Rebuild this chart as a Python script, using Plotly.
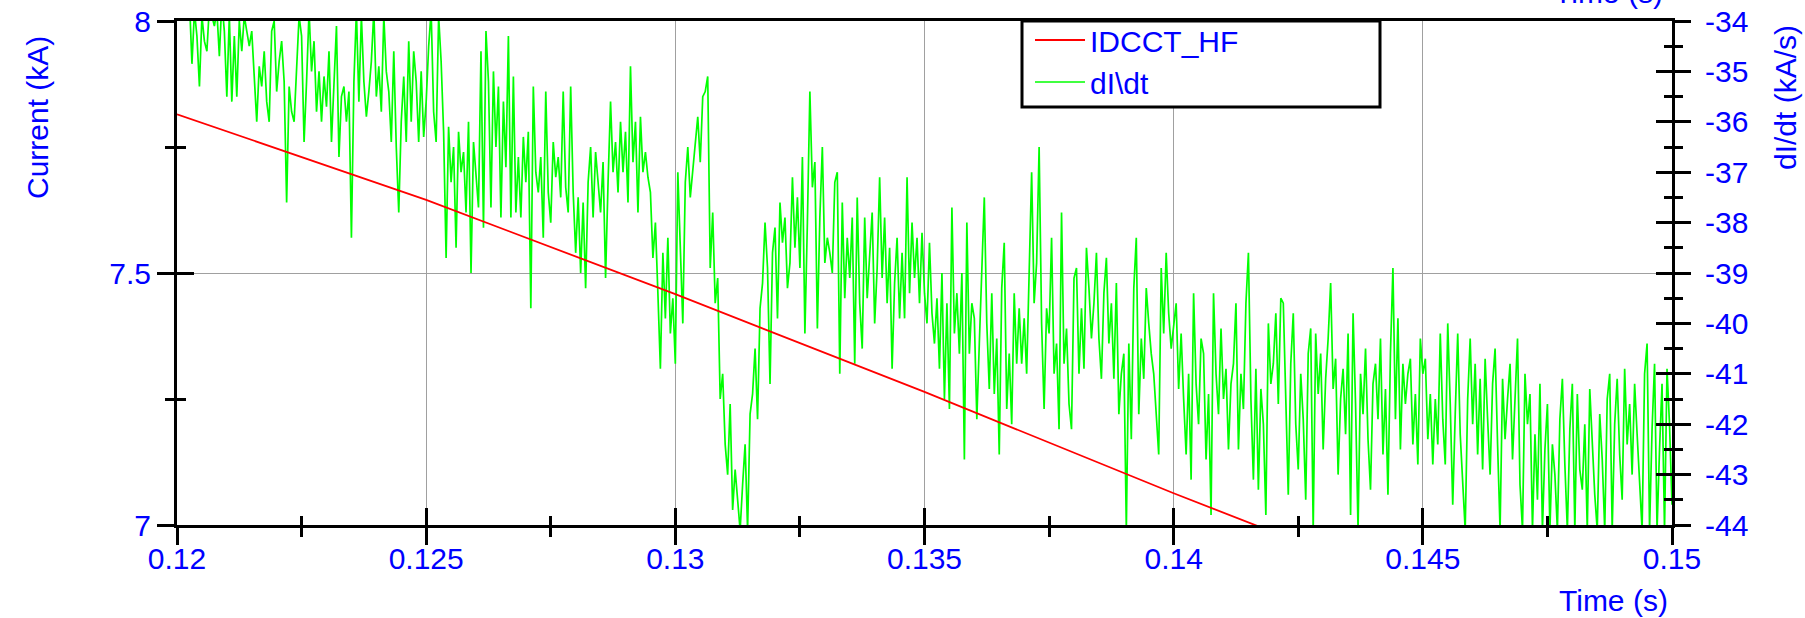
import plotly.graph_objects as go

# ---------------- data ----------------
# Red trace: DCCT current (kA)
current_time = [0.12, 0.125, 0.13, 0.135, 0.14, 0.145, 0.15]
current_ka = [7.815, 7.645, 7.458, 7.264, 7.063, 6.870, 6.670]

# Green trace: dI/dt (kA/s), sampled every 50 us starting at 0.12 s
DIDT_T0 = 0.12
DIDT_DT = 0.00005

didt_0120 = [
    -33.6, -33.4, -33.7, -33.5, -33.8, -33.6, -34.85, -33.8, -34.3, -35.3,
    -33.9, -34.4, -34.6, -33.7, -33.9, -34.1, -33.8, -34.7, -33.6, -34.2,
    -35.5, -33.9, -35.6, -34.3, -35.5, -34.0, -34.6, -33.9, -34.2, -34.5,
    -34.2, -35.0, -36.0, -34.9, -35.3, -34.6, -35.6, -36.0, -34.2, -34.0,
    -35.4, -34.8, -34.4, -35.2, -37.6, -35.3, -35.8, -36.0, -35.0, -33.9,
    -34.3, -36.4, -35.2, -33.8, -35.0, -34.4, -35.8, -35.0, -36.0, -35.1,
    -35.7, -34.6, -36.4, -35.3, -34.1, -36.7, -35.5, -35.3, -36.0, -35.4,
    -38.3, -35.2, -33.8, -35.6, -33.9, -35.2, -35.9, -35.4, -34.8, -33.8,
    -35.5, -34.9, -35.8, -33.9, -35.0, -35.4, -36.4, -34.6, -36.5, -37.8,
    -36.0, -35.1, -36.4, -34.4, -36.0, -34.6, -35.2, -36.4, -35.0, -36.3,
]
didt_0125 = [
    -35.6, -34.5, -33.8, -35.8, -36.4, -33.9, -34.8, -36.2, -38.7, -36.1,
    -37.2, -36.5, -38.5, -36.2, -37.0, -36.6, -37.8, -36.0, -39.0, -36.4,
    -37.1, -37.7, -34.6, -38.1, -34.2, -35.2, -37.7, -35.0, -36.5, -35.3,
    -37.9, -35.6, -36.9, -34.3, -37.9, -35.1, -37.8, -36.7, -37.9, -36.3,
    -37.2, -36.2, -39.7, -35.3, -37.0, -37.4, -36.7, -38.3, -35.4, -37.4,
    -38.0, -36.4, -37.1, -36.7, -37.5, -35.4, -37.3, -37.8, -35.3, -37.4,
    -38.6, -37.5, -39.0, -37.6, -39.3, -37.2, -36.5, -37.9, -36.6, -37.3,
    -37.8, -36.8, -39.1, -37.2, -35.6, -37.0, -36.4, -37.4, -36.0, -37.0,
    -36.2, -37.6, -34.9, -36.8, -36.0, -37.8, -35.9, -37.0, -36.6, -37.1,
    -37.4, -38.7, -38.0, -39.4, -40.9, -38.6, -39.9, -38.3, -40.2, -39.5,
]
didt_0130 = [
    -40.8, -37.0, -38.6, -40.0, -37.2, -36.5, -37.5, -37.0, -36.5, -35.9,
    -36.8, -35.5, -35.4, -35.1, -38.9, -37.8, -39.6, -39.1, -41.5, -41.0,
    -42.4, -43.0, -41.6, -43.7, -42.9, -43.5, -44.1, -43.2, -42.4, -44.1,
    -41.8, -41.4, -40.5, -41.9, -39.7, -39.2, -38.0, -38.9, -41.2, -38.6,
    -38.1, -39.9, -37.6, -38.4, -37.9, -39.3, -38.8, -37.1, -38.5, -37.5,
    -38.9, -36.7, -40.2, -38.0, -35.4, -37.3, -36.8, -40.1, -37.9, -36.5,
    -38.8, -38.3, -38.6, -39.0, -37.2, -37.0, -41.0, -37.6, -39.5, -38.3,
    -39.1, -37.9, -40.8, -37.5, -39.6, -40.5, -37.9, -39.5, -38.7, -37.8,
    -40.0, -38.9, -37.1, -39.1, -37.9, -39.6, -38.5, -40.9, -39.2, -38.3,
    -39.9, -38.6, -39.9, -37.1, -39.4, -38.0, -39.1, -38.3, -39.6, -38.2,
]
didt_0135 = [
    -39.4, -40.0, -38.4, -39.8, -40.4, -39.5, -40.9, -39.0, -41.5, -39.6,
    -41.7, -37.7, -40.2, -39.4, -40.6, -39.0, -42.7, -38.0, -40.6, -39.6,
    -39.9, -41.9, -40.4, -39.1, -37.5, -40.0, -41.3, -39.4, -41.4, -40.3,
    -42.6, -39.3, -38.4, -41.7, -40.6, -42.0, -39.4, -40.8, -39.7, -40.8,
    -39.9, -41.0, -39.2, -37.0, -39.6, -38.8, -36.5, -40.0, -41.7, -39.7,
    -40.2, -38.3, -41.0, -40.4, -42.1, -37.8, -40.8, -40.1, -41.6, -42.1,
    -39.1, -38.9, -41.0, -39.7, -40.9, -38.5, -39.3, -40.3, -39.6, -38.6,
    -40.3, -41.1, -39.4, -38.7, -40.4, -39.6, -41.1, -39.2, -41.8, -41.0,
    -40.6, -44.1, -40.4, -42.3, -39.3, -38.3, -41.8, -40.3, -41.1, -39.3,
    -40.0, -40.6, -41.0, -41.8, -42.6, -38.9, -40.2, -38.6, -39.8, -40.5,
]
didt_0140 = [
    -40.1, -39.6, -41.3, -40.2, -41.5, -42.6, -41.0, -43.1, -39.4, -41.2,
    -42.0, -40.3, -40.6, -42.7, -41.4, -43.8, -39.4, -41.0, -41.8, -40.1,
    -41.5, -40.9, -42.5, -41.2, -40.8, -39.6, -42.5, -41.0, -41.7, -39.6,
    -38.6, -41.5, -43.1, -40.9, -43.3, -41.3, -42.0, -43.8, -40.0, -41.2,
    -40.8, -39.8, -41.6, -39.5, -39.6, -41.4, -43.4, -40.8, -39.8, -42.0,
    -42.9, -41.0, -41.9, -43.5, -40.6, -40.1, -44.1, -40.2, -41.4, -40.6,
    -42.5, -41.1, -40.3, -39.2, -41.3, -40.7, -43.0, -41.5, -40.9, -42.2,
    -40.2, -43.8, -39.8, -41.6, -44.1, -41.0, -41.8, -40.5, -42.3, -43.3,
    -41.2, -40.8, -41.9, -40.3, -42.6, -41.3, -43.4, -40.6, -38.9, -41.9,
    -39.9, -42.5, -40.8, -41.6, -41.0, -40.7, -42.4, -41.4, -42.8, -40.3,
]
didt_0145 = [
    -41.0, -40.7, -42.3, -41.4, -42.8, -41.5, -42.4, -40.2, -41.9, -42.8,
    -40.0, -41.6, -43.6, -41.8, -40.2, -42.2, -43.2, -44.1, -41.5, -40.3,
    -42.0, -40.8, -42.6, -41.1, -42.9, -40.7, -41.9, -43.0, -41.2, -40.5,
    -42.4, -44.1, -41.1, -42.3, -41.5, -40.8, -42.7, -41.6, -40.3, -43.2,
    -44.1, -41.0, -42.0, -41.4, -44.1, -42.2, -43.5, -41.2, -44.1, -42.5,
    -41.6, -44.1, -42.4, -43.0, -44.1, -41.9, -41.1, -42.8, -44.1, -42.1,
    -41.2, -44.1, -41.4, -42.9, -43.3, -42.0, -44.1, -41.3, -42.5, -43.4,
    -44.1, -41.8, -42.7, -44.1, -41.5, -41.0, -44.1, -42.0, -41.1, -42.6,
    -43.5, -40.9, -42.4, -41.6, -43.0, -41.2, -42.2, -43.2, -44.1, -41.0,
    -40.4, -44.1, -42.1, -40.8, -44.1, -42.5, -41.2, -44.1, -40.9, -42.0,
    -43.6,
]
didt_kas = didt_0120 + didt_0125 + didt_0130 + didt_0135 + didt_0140 + didt_0145

# Axis ticks
time_ticks = [0.12, 0.125, 0.13, 0.135, 0.14, 0.145, 0.15]
time_labels = ["0.12", "0.125", "0.13", "0.135", "0.14", "0.145", "0.15"]
time_minor = [0.1225, 0.1275, 0.1325, 0.1375, 0.1425, 0.1475]
current_ticks = [7.0, 7.5, 8.0]
current_labels = ["7", "7.5", "8"]
current_minor = [7.25, 7.75]
didt_ticks = [-44, -43, -42, -41, -40, -39, -38, -37, -36, -35, -34]
didt_labels = ["-44", "-43", "-42", "-41", "-40", "-39", "-38", "-37", "-36", "-35", "-34"]
didt_minor = [-43.5, -42.5, -41.5, -40.5, -39.5, -38.5, -37.5, -36.5, -35.5, -34.5]

# ---------------- styling ----------------
W, H = 1805, 618
L, R, T, B = 177, 133, 21, 93
PW, PH = W - L - R, H - T - B
BLUE = "#0000ff"
FONT = "Liberation Sans, Arial, sans-serif"
GRID = "#a0a0a0"
TICK_FONT = dict(family=FONT, size=30, color=BLUE)
TITLE_FONT = dict(family=FONT, size=30, color=BLUE)


def px_x(px):
    return (px - L) / PW


def px_y(py):
    return (H - B - py) / PH


def tick_style(side_ticks, major_len, minor_len, minor_vals):
    return dict(
        ticks=side_ticks, ticklen=major_len, tickwidth=2.5, tickcolor="black",
        minor=dict(tickvals=minor_vals, ticks=side_ticks, ticklen=minor_len,
                   tickwidth=2.5, tickcolor="black", showgrid=False),
    )


fig = go.Figure()
fig.add_trace(go.Scatter(
    x=current_time, y=current_ka, name="IDCCT_HF", mode="lines",
    line=dict(color="#ff0000", width=1.8), xaxis="x", yaxis="y2",
))
fig.add_trace(go.Scatter(
    x0=DIDT_T0, dx=DIDT_DT, y=didt_kas, name="dI\\dt", mode="lines",
    line=dict(color="#00ff00", width=1.7), xaxis="x", yaxis="y",
))
# empty traces so the inward-tick companion axes get drawn
for xa, ya in (("x2", "y"), ("x", "y3"), ("x", "y4")):
    fig.add_trace(go.Scatter(x=[], y=[], xaxis=xa, yaxis=ya, mode="lines",
                             showlegend=False, hoverinfo="skip"))

fig.update_layout(
    width=W, height=H,
    margin=dict(l=L, r=R, t=T, b=B, pad=0, autoexpand=False),
    paper_bgcolor="white", plot_bgcolor="white",
    font=dict(family=FONT, color=BLUE),
    showlegend=True,
    xaxis=dict(
        range=[0.12, 0.15], tickvals=time_ticks, ticktext=time_labels,
        tickfont=TICK_FONT, showgrid=True, gridcolor=GRID, gridwidth=1,
        showline=True, linecolor="black", linewidth=3, mirror=True,
        zeroline=False, anchor="y", ticklabelstandoff=-12,
        **tick_style("outside", 17, 9, time_minor),
    ),
    xaxis2=dict(
        range=[0.12, 0.15], tickvals=time_ticks, overlaying="x", anchor="y",
        side="bottom", showticklabels=False, showgrid=False, showline=False,
        zeroline=False,
        **tick_style("inside", 17, 9, time_minor),
    ),
    yaxis=dict(
        range=[-44, -34], tickvals=didt_ticks, ticktext=didt_labels,
        side="right", anchor="x", ticklabelstandoff=8,
        tickfont=TICK_FONT, showgrid=False, showline=True, linecolor="black",
        linewidth=3, zeroline=False,
        **tick_style("outside", 16, 8, didt_minor),
    ),
    yaxis2=dict(
        range=[7, 8], tickvals=current_ticks, ticktext=current_labels,
        overlaying="y", side="left", anchor="x", tickfont=TICK_FONT,
        showgrid=True, gridcolor=GRID, gridwidth=1, showline=True,
        linecolor="black", linewidth=3, zeroline=False,
        **tick_style("outside", 17, 9, current_minor),
    ),
    yaxis3=dict(
        range=[-44, -34], tickvals=didt_ticks, overlaying="y", side="right",
        anchor="x", showticklabels=False, showgrid=False, showline=False,
        zeroline=False,
        **tick_style("inside", 16, 8, didt_minor),
    ),
    yaxis4=dict(
        range=[7, 8], tickvals=current_ticks, overlaying="y", side="left",
        anchor="x", showticklabels=False, showgrid=False, showline=False,
        zeroline=False,
        **tick_style("inside", 17, 9, current_minor),
    ),
    legend=dict(
        x=px_x(1030), y=px_y(14), xanchor="left", yanchor="top",
        bgcolor="rgba(0,0,0,0)", borderwidth=0,
        font=dict(family=FONT, size=30, color=BLUE),
        itemwidth=50, traceorder="normal",
    ),
    shapes=[dict(
        type="rect", xref="paper", yref="paper",
        x0=px_x(1022), x1=px_x(1380), y0=px_y(107), y1=1.0,
        line=dict(color="black", width=3), fillcolor="white", layer="above",
    )],
    annotations=[
        dict(text="Current (kA)", xref="paper", yref="paper",
             x=px_x(38), y=px_y(118), textangle=-90, showarrow=False,
             xanchor="center", yanchor="middle", font=TITLE_FONT),
        dict(text="dI/dt (kA/s)", xref="paper", yref="paper",
             x=px_x(1785), y=px_y(97), textangle=-90, showarrow=False,
             xanchor="center", yanchor="middle", font=TITLE_FONT),
        dict(text="Time (s)", xref="paper", yref="paper",
             x=px_x(1613), y=px_y(600), showarrow=False,
             xanchor="center", yanchor="middle", font=TITLE_FONT),
        dict(text="Time (s)", xref="paper", yref="paper",
             x=px_x(1608), y=px_y(-7), showarrow=False,
             xanchor="center", yanchor="middle", font=TITLE_FONT),
    ],
)

fig.write_html("out.html")
